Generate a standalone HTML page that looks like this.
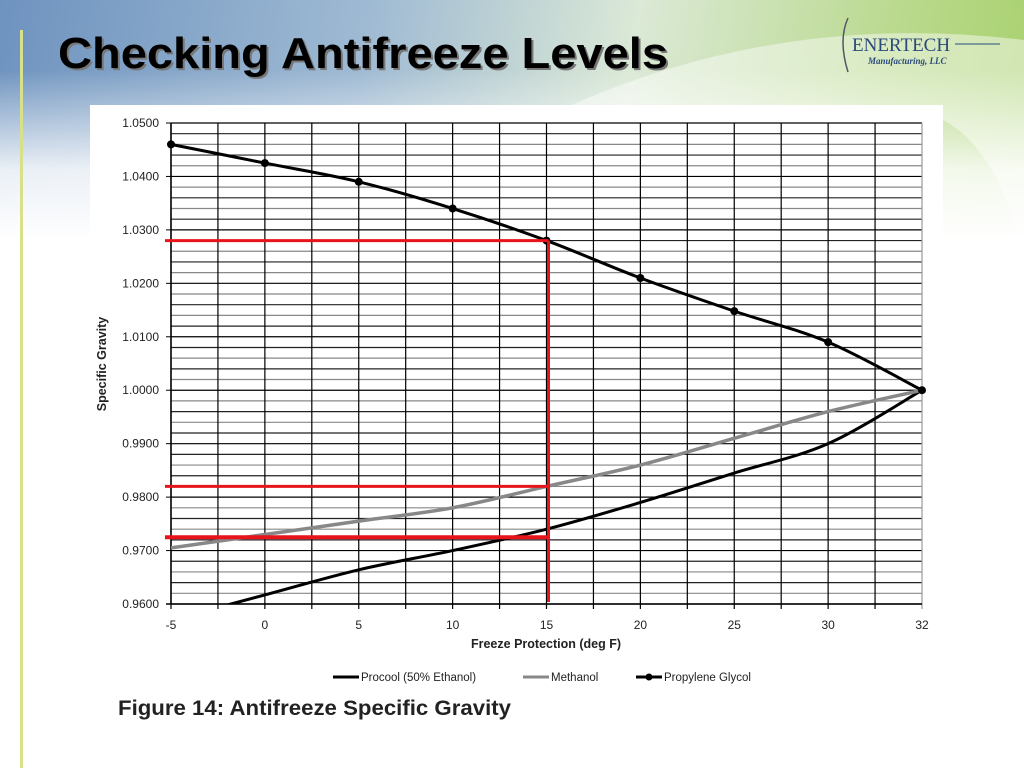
<!DOCTYPE html>
<html><head><meta charset="utf-8"><style>
html,body{margin:0;padding:0;width:1024px;height:768px;overflow:hidden;font-family:"Liberation Sans",sans-serif;background:#fff;}
#bg{position:absolute;left:0;top:0;width:1024px;height:260px;background:linear-gradient(100deg,#6e93bf 0%,#9fbad3 35%,#dbe9d6 60%,#b9d98c 85%,#a7d06c 100%);}
#fade{position:absolute;left:0;top:0;width:1024px;height:260px;background:linear-gradient(180deg,rgba(255,255,255,0) 0px,rgba(255,255,255,0) 70px,rgba(255,255,255,0.85) 170px,#fff 240px);}
</style></head><body>
<div id="bg"></div>
<div id="fade"></div>
<svg width="1024" height="768" style="position:absolute;left:0;top:0">
<path d="M560 110 Q780 10 1024 40 L1024 260 Q1000 150 943 120 Z" fill="#ffffff" fill-opacity="0.45"/>
<rect x="20" y="30" width="3" height="738" fill="#d8e08a"/>
<text x="60" y="70" font-size="44" font-weight="bold" fill="#777" textLength="610" lengthAdjust="spacingAndGlyphs">Checking Antifreeze Levels</text>
<text x="58" y="68" font-size="44" font-weight="bold" fill="#000" textLength="610" lengthAdjust="spacingAndGlyphs">Checking Antifreeze Levels</text>
<g>
<path d="M848 18 Q838 40 848 72" stroke="#556" fill="none" stroke-width="1.5"/>
<text x="852" y="51" font-family="Liberation Serif,serif" font-size="19" fill="#2b4a7a">ENERTECH</text>
<line x1="955" y1="44" x2="1000" y2="44" stroke="#2b4a7a"/>
<text x="868" y="64" font-family="Liberation Serif,serif" font-size="9" font-style="italic" font-weight="bold" fill="#2b4a7a">Manufacturing, LLC</text>
</g>
<rect x="90" y="105" width="853" height="663" fill="#fff"/>
<g id="chart"></g>
<text x="118" y="715" font-size="21" font-weight="bold" fill="#222" textLength="393" lengthAdjust="spacingAndGlyphs">Figure 14:  Antifreeze Specific Gravity</text>
</svg>
<script>
const categories=["-5","0","5","10","15","20","25","30","32"];
const procool=[0.9570,0.9617,0.9664,0.9700,0.9740,0.9790,0.9845,0.9900,1.0000];
const methanol=[0.9705,0.9730,0.9755,0.9780,0.9820,0.9860,0.9910,0.9960,1.0000];
const propylene=[1.0460,1.0425,1.0390,1.0340,1.0280,1.0210,1.0148,1.0090,1.0000];
const yTicks=[0.96,0.97,0.98,0.99,1.00,1.01,1.02,1.03,1.04,1.05];
const refLevels=[1.028,0.982,0.9725];
const refCategory=4;
const NS="http://www.w3.org/2000/svg";
const L=171,R=922,T=123,B=604,yMin=0.96,yMax=1.05;
const xs=i=>L+i*(R-L)/(categories.length-1);
const ys=v=>B-(v-yMin)/(yMax-yMin)*(B-T);
const g=document.getElementById('chart');
function mk(t,a,p){const e=document.createElementNS(NS,t);for(const k in a)e.setAttribute(k,a[k]);(p||g).appendChild(e);return e;}
const defs=mk('defs',{});const cp=mk('clipPath',{id:'pc'},defs);mk('rect',{x:L,y:T-6,width:R-L+8,height:B-T+6},cp);
for(let k=0;k<=45;k++){const v=yMin+k*0.002;const y=ys(v);
 const l=mk('line',{x1:L,x2:R,y1:y,y2:y,stroke:k%5==0?'#000':(k%2?'#888':'#222'),'stroke-width':1.2});
 }
for(let k=0;k<=16;k++){const x=L+k*(R-L)/16;
 const l=mk('line',{x1:x,x2:x,y1:T,y2:B+5,stroke:k==16?'#999':'#000','stroke-width':1.2});
 }
mk('line',{x1:L,x2:L,y1:T,y2:B,stroke:'#000','stroke-width':1.5});
mk('line',{x1:L-5,x2:R,y1:B,y2:B,stroke:'#000','stroke-width':1.5});
yTicks.forEach(v=>{mk('line',{x1:L-5,x2:L,y1:ys(v),y2:ys(v),stroke:'#000'});
 const t=mk('text',{x:L-12,y:ys(v)+4,'text-anchor':'end','font-size':12,fill:'#222'});t.textContent=v.toFixed(4);
 });
categories.forEach((c,i)=>{const t=mk('text',{x:xs(i),y:B+25,'text-anchor':'middle','font-size':12,fill:'#222'});t.textContent=c;
 });
let t=mk('text',{x:546,y:648,'text-anchor':'middle','font-size':12.5,'font-weight':'bold',fill:'#222'});t.textContent='Freeze Protection (deg F)';

t=mk('text',{x:0,y:0,'text-anchor':'middle','font-size':12.5,'font-weight':'bold',fill:'#222',transform:'translate(106,364) rotate(-90)'});t.textContent='Specific Gravity';

function spline(vals){const p=vals.map((v,i)=>[xs(i),ys(v)]);let d='M'+p[0];
 for(let i=0;i<p.length-1;i++){const p0=p[i-1]||p[i],p1=p[i],p2=p[i+1],p3=p[i+2]||p2;const s=6;
  d+=' C'+(p1[0]+(p2[0]-p0[0])/s)+','+(p1[1]+(p2[1]-p0[1])/s)+' '+(p2[0]-(p3[0]-p1[0])/s)+','+(p2[1]-(p3[1]-p1[1])/s)+' '+p2;}return d;}
const s1=mk('path',{d:spline(procool),fill:'none',stroke:'#000','stroke-width':3,'clip-path':'url(#pc)'});

const s2=mk('path',{d:spline(methanol),fill:'none',stroke:'#888','stroke-width':3.5,'clip-path':'url(#pc)'});

const s3=mk('path',{d:spline(propylene),fill:'none',stroke:'#000','stroke-width':3});

propylene.forEach((v,i)=>{const c=mk('circle',{cx:xs(i),cy:ys(v),r:4,fill:'#000'});
 });
const rx=xs(refCategory)+2;
refLevels.forEach((v,i)=>{const l=mk('line',{x1:L-6,x2:rx,y1:ys(v),y2:ys(v),stroke:'#e8141c','stroke-width':i==2?4:3});
 });
const vl=mk('line',{x1:rx,x2:rx,y1:ys(refLevels[0]),y2:B-2,stroke:'#e8141c','stroke-width':3});

const leg=[['Procool (50% Ethanol)','#000',333,false],['Methanol','#888',523,false],['Propylene Glycol','#000',636,true]];
leg.forEach(e=>{const lg=mk('g',{});
 mk('line',{x1:e[2],x2:e[2]+26,y1:677,y2:677,stroke:e[1],'stroke-width':3},lg);
 if(e[3])mk('circle',{cx:e[2]+13,cy:677,r:3.5,fill:'#000'},lg);
 const tt=mk('text',{x:e[2]+28,y:681,'font-size':11.5,fill:'#222'},lg);tt.textContent=e[0];});
</script>
</body></html>
